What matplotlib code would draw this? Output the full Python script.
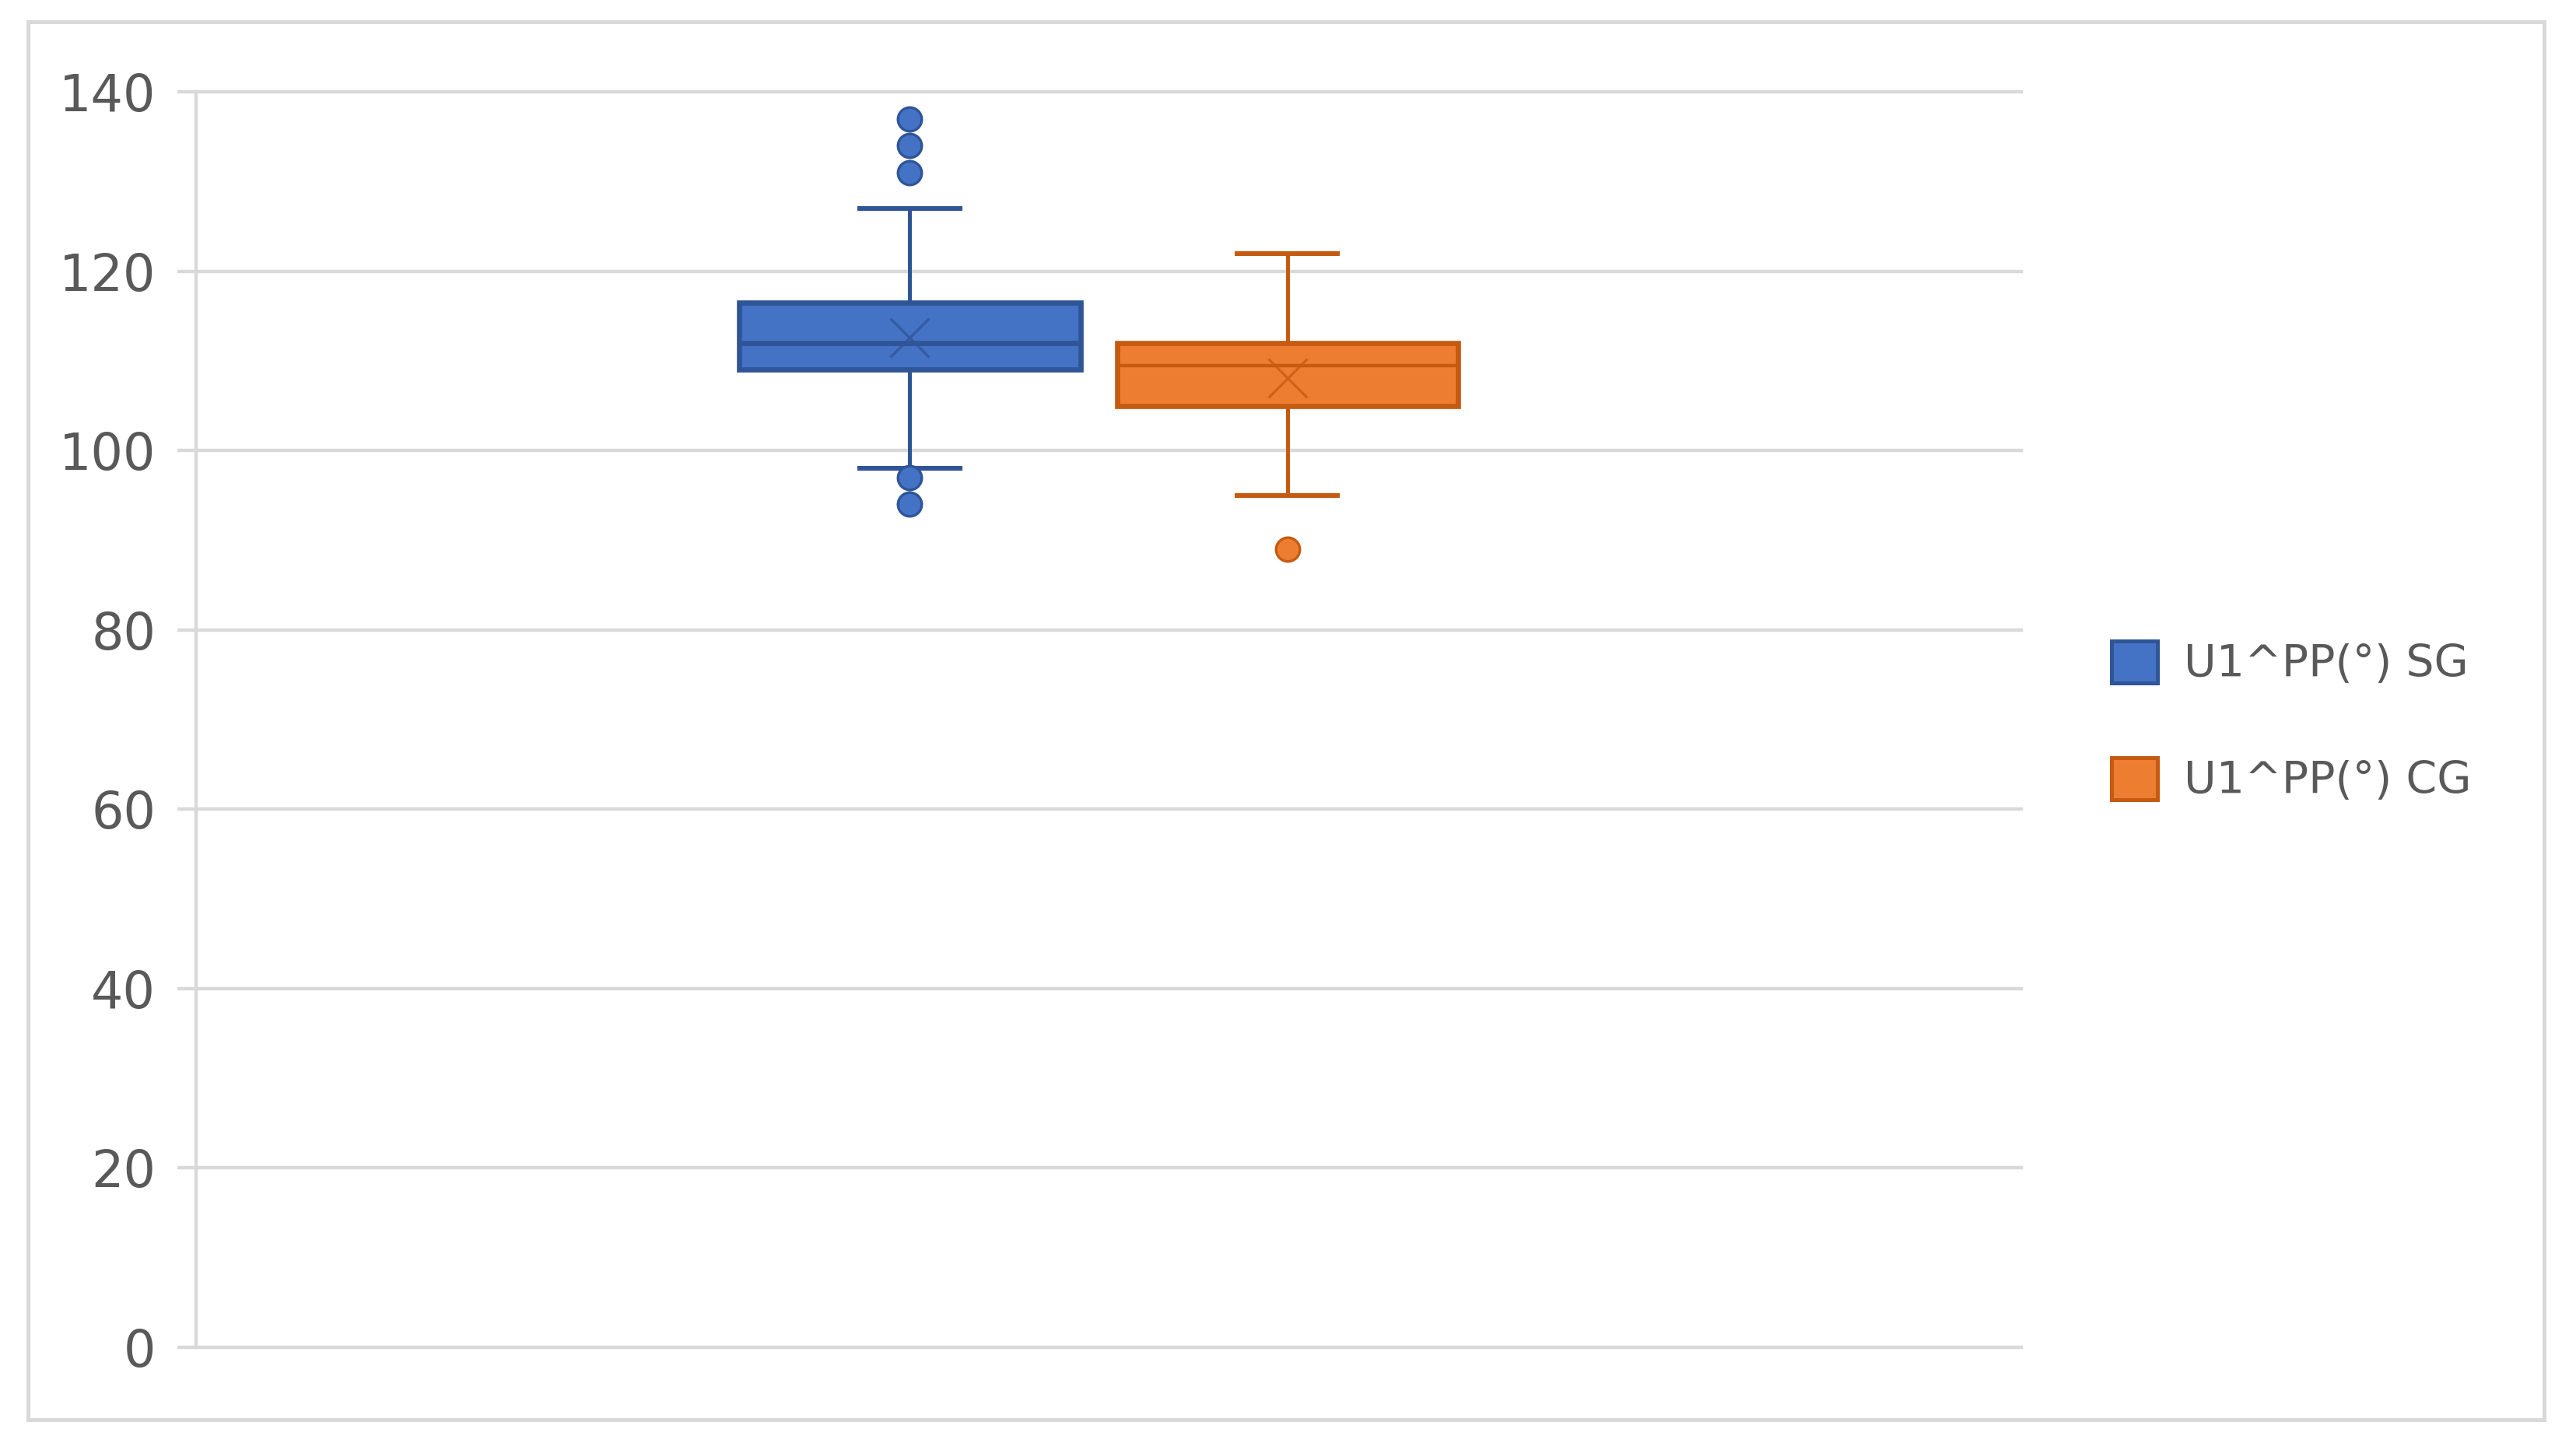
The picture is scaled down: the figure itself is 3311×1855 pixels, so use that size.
import matplotlib
matplotlib.use("Agg")
import matplotlib.pyplot as plt
from matplotlib.patches import Patch, Rectangle

# ---- data ----
series_names = ["U1^PP(°) SG", "U1^PP(°) CG"]
whisker_low = [98, 95]
q1 = [109, 105]
medians = [112, 109.5]
q3 = [116.5, 112]
whisker_high = [127, 122]
means = [112.6, 108.1]
fliers = [[137, 134, 131, 97, 94], [89]]
y_ticks = [0, 20, 40, 60, 80, 100, 120, 140]

fill_colors = ["#4472C4", "#ED7D31"]
edge_colors = ["#2F5597", "#C55A11"]
grid_color = "#D9D9D9"
text_color = "#595959"

W, H, DPI = 3312, 1855, 200
fig = plt.figure(figsize=(W / DPI, H / DPI), dpi=DPI)
fig.patch.set_facecolor("white")

left, right, top, bottom = 252, 2598, 118, 1732
ax = fig.add_axes([left / W, 1 - bottom / H, (right - left) / W, (bottom - top) / H])

positions = [0.391, 0.598]
box_w = 0.187
cap_w = 0.055

for i in range(2):
    st = [dict(med=medians[i], q1=q1[i], q3=q3[i], whislo=whisker_low[i],
               whishi=whisker_high[i], mean=means[i], fliers=fliers[i], label=series_names[i])]
    ax.bxp(st, positions=[positions[i]], widths=box_w, capwidths=cap_w,
           patch_artist=True, showmeans=True, showfliers=True,
           boxprops=dict(facecolor=fill_colors[i], edgecolor=edge_colors[i], linewidth=2.4),
           medianprops=dict(color=edge_colors[i], linewidth=2.4 if i == 0 else 1.6),
           whiskerprops=dict(color=edge_colors[i], linewidth=1.8),
           capprops=dict(color=edge_colors[i], linewidth=2.2),
           meanprops=dict(marker="x", markersize=18, markeredgecolor=edge_colors[i],
                          markeredgewidth=1.1, alpha=0.8),
           flierprops=dict(marker="o", markersize=11, markerfacecolor=fill_colors[i],
                           markeredgecolor=edge_colors[i], markeredgewidth=1.2),
           zorder=3)

ax.set_xlim(0, 1)
ax.set_ylim(0, 140)
ax.set_yticks(y_ticks)
ax.set_yticklabels([str(t) for t in y_ticks])
ax.set_xticks([])
ax.yaxis.grid(True, color=grid_color, linewidth=1.6)
for gl in ax.yaxis.get_gridlines():
    gl.set_clip_on(False)
ax.set_axisbelow(True)
for s in ["top", "right", "bottom"]:
    ax.spines[s].set_visible(False)
ax.spines["left"].set_color(grid_color)
ax.spines["left"].set_linewidth(1.6)
ax.tick_params(axis="y", length=8.6, width=1.6, color=grid_color, pad=10,
               labelsize=23.5, labelcolor=text_color)
for lbl in ax.get_yticklabels():
    lbl.set_family("DejaVu Sans")

handles = [Patch(facecolor=fill_colors[i], edgecolor=edge_colors[i], linewidth=1.8,
                 label=series_names[i]) for i in range(2)]
leg = fig.legend(handles=handles, loc="center left",
                 bbox_to_anchor=(2714 / W, 1 - 928 / H), frameon=False,
                 fontsize=20.5, handlelength=1.03, handleheight=1.1,
                 handletextpad=0.6, labelspacing=1.6, borderpad=0, borderaxespad=0)
for t in leg.get_texts():
    t.set_color(text_color)

# outer chart border
fig.patches.append(Rectangle((36 / W, 1 - 1825 / H), (3270 - 36) / W, (1825 - 28) / H,
                             transform=fig.transFigure, fill=False,
                             edgecolor=grid_color, linewidth=1.8))

fig.savefig("out.png", dpi=DPI, facecolor="white")
